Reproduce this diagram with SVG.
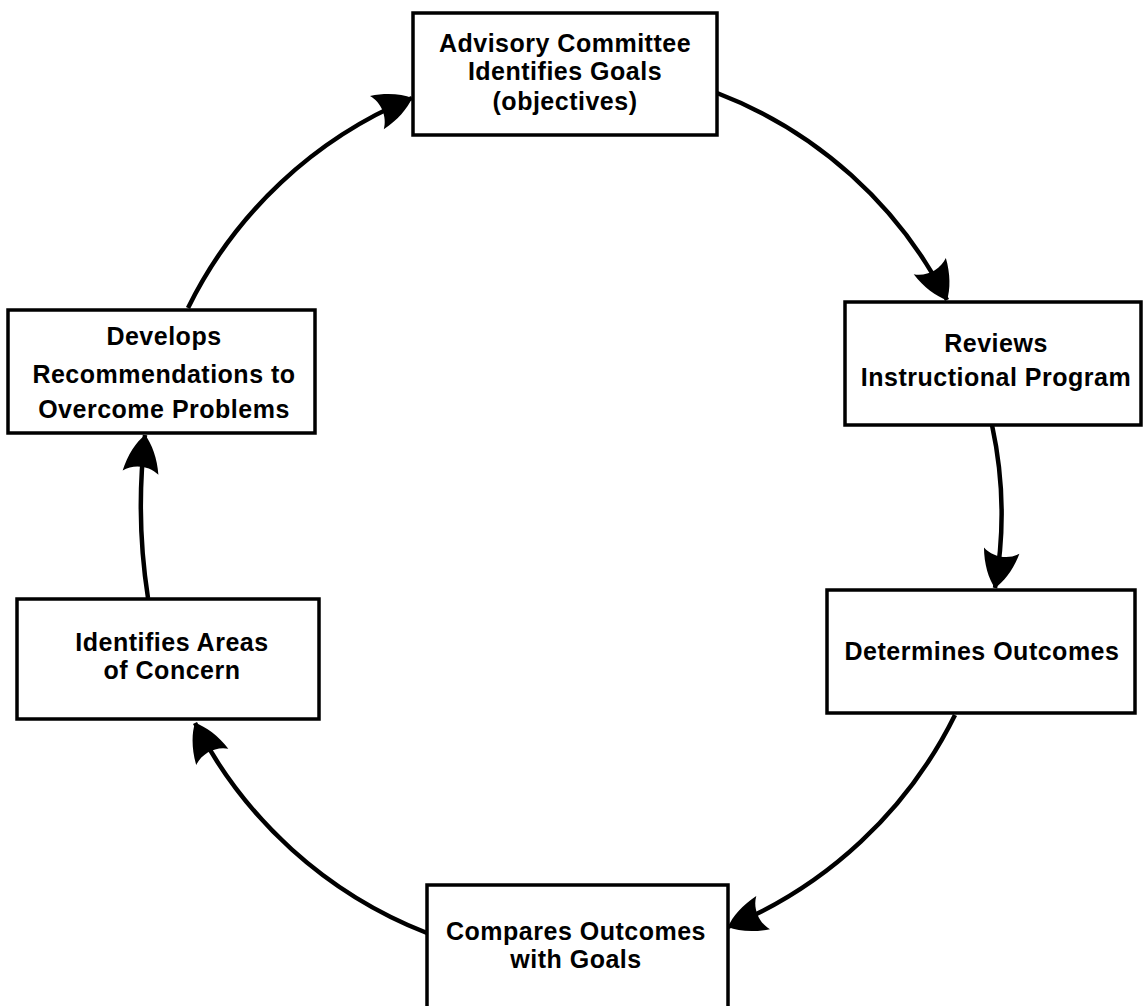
<svg xmlns="http://www.w3.org/2000/svg" width="1143" height="1006" viewBox="0 0 1143 1006">
<style>
.box{fill:#fff;stroke:#000;stroke-width:3.5}
.lbl{font-family:"Liberation Sans",Arial,sans-serif;font-weight:bold;font-size:25px;letter-spacing:0.5px;fill:#000;text-anchor:middle}
.arr{fill:none;stroke:#000;stroke-width:4.5;marker-end:url(#head)}
</style>
<defs>
<marker id="head" markerUnits="userSpaceOnUse" viewBox="-44 -22 48 44" refX="0" refY="0" markerWidth="48" markerHeight="44" orient="auto">
<path d="M0,0 C-8,-8 -22,-15 -38,-18 C-30,-8 -30,8 -38,18 C-22,15 -8,8 0,0 Z" fill="#000"/>
</marker>
</defs>
<rect width="1143" height="1006" fill="#fff"/>
<g id="connectors">
<path class="arr" d="M717,93 A430,430 0 0 1 947,300"/>
<path class="arr" d="M992,425 A420,420 0 0 1 995,588"/>
<path class="arr" d="M955,715 A440,440 0 0 1 728,927"/>
<path class="arr" d="M427,933 A440,440 0 0 1 195,723"/>
<path class="arr" d="M148,598 A600,600 0 0 1 145,435"/>
<path class="arr" d="M188,308 A435,435 0 0 1 412,98"/>
</g>
<g id="n1">
<rect class="box" x="413" y="13" width="304" height="122"/>
<text class="lbl" x="565" y="52">Advisory Committee</text>
<text class="lbl" x="565" y="80">Identifies Goals</text>
<text class="lbl" x="565" y="110">(objectives)</text>
</g>
<g id="n2">
<rect class="box" x="845" y="302" width="296" height="123"/>
<text class="lbl" x="996" y="352">Reviews</text>
<text class="lbl" x="996" y="386">Instructional Program</text>
</g>
<g id="n3">
<rect class="box" x="827" y="590" width="308" height="123"/>
<text class="lbl" x="982" y="660">Determines Outcomes</text>
</g>
<g id="n4">
<rect class="box" x="427" y="885" width="301" height="130"/>
<text class="lbl" x="576" y="940">Compares Outcomes</text>
<text class="lbl" x="576" y="968">with Goals</text>
</g>
<g id="n5">
<rect class="box" x="17" y="599" width="302" height="120"/>
<text class="lbl" x="172" y="651">Identifies Areas</text>
<text class="lbl" x="172" y="679">of Concern</text>
</g>
<g id="n6">
<rect class="box" x="8" y="310" width="307" height="123"/>
<text class="lbl" x="164" y="345">Develops</text>
<text class="lbl" x="164" y="383">Recommendations to</text>
<text class="lbl" x="164" y="418">Overcome Problems</text>
</g>
</svg>
